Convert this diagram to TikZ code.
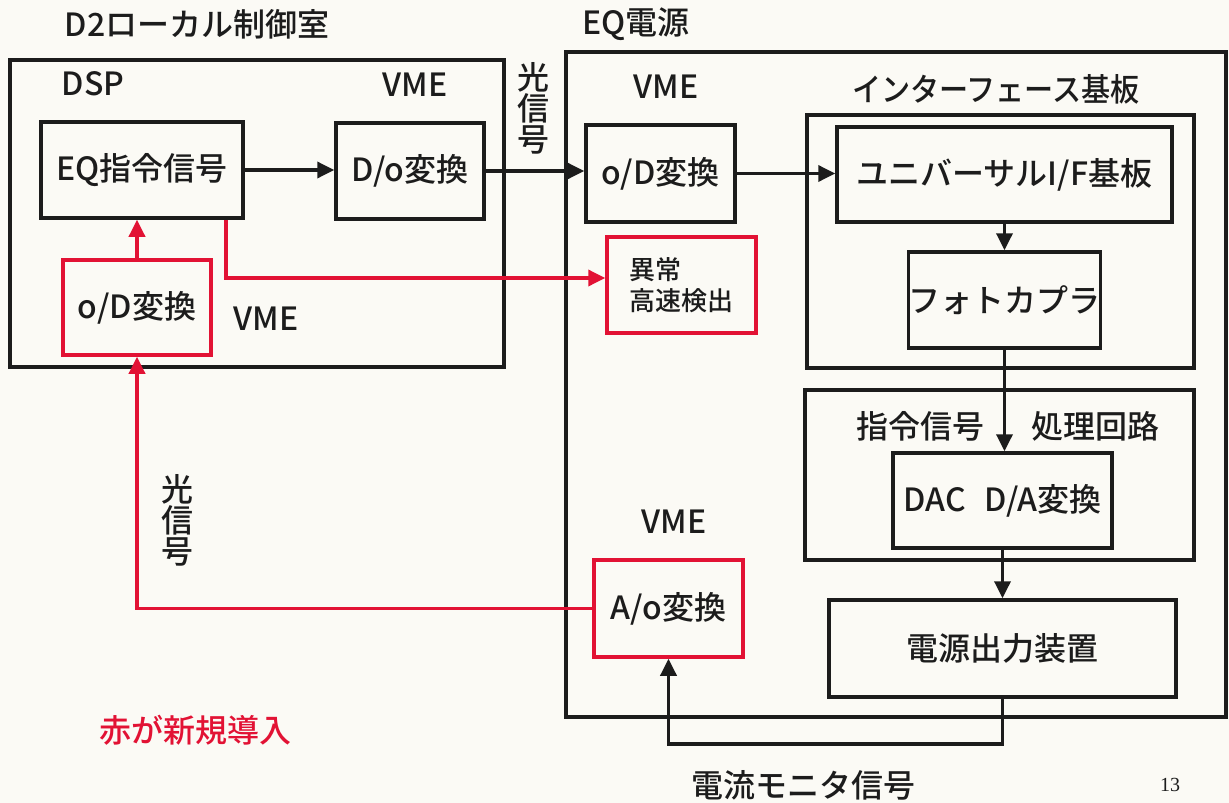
\documentclass[tikz,border=0pt]{standalone}
\usepackage{fontspec}
\setmainfont{Noto Sans CJK JP}[UprightFont={* Medium}]
\newfontfamily\pagefont{Liberation Serif}
\newfontfamily\narrowfont{Noto Sans CJK JP}[UprightFont={* Medium}, FakeStretch=0.91]
\usetikzlibrary{arrows.meta}
\definecolor{redline}{RGB}{226,18,52}
\definecolor{ink}{RGB}{28,28,28}
\definecolor{paper}{RGB}{251,250,245}
\begin{document}
\begin{tikzpicture}[x=1pt,y=-1pt,
  every node/.style={font=\fontsize{32}{31}\selectfont, text=ink, inner sep=0pt},
  bx/.style={draw=ink, line width=3.5pt},
  rbx/.style={draw=redline, line width=3.5pt},
  conn/.style={draw=ink, line width=3.5pt, -{Triangle[length=17pt,width=16pt]}},
  rconn/.style={draw=redline, line width=3.5pt, -{Triangle[length=17pt,width=16pt]}},
  lbl/.style={},
  smalllbl/.style={font=\fontsize{26}{31}\selectfont},
]
\fill[paper] (0,0) rectangle (1229,803);
\useasboundingbox (0,0) rectangle (1229,803);

% containers
\node[bx, minimum width=494pt, minimum height=307pt] (outL) at (257,213.5) {};
\node[bx, minimum width=660pt, minimum height=665pt] (outR) at (896,384.5) {};
\node[bx, minimum width=387pt, minimum height=253pt] (ifb) at (1000.5,241.5) {};
\node[bx, minimum width=389pt, minimum height=170pt] (proc) at (999.5,475) {};

% boxes
\node[bx, minimum width=202pt, minimum height=96pt] (eq) at (142,170) {EQ指令信号};
\node[bx, minimum width=148pt, minimum height=96pt] (do) at (410,171) {D/o変換};
\node[rbx, minimum width=148pt, minimum height=95pt] (odL) at (137,307.5) {o/D変換};
\node[bx, minimum width=149pt, minimum height=97pt] (odR) at (660.5,173.5) {o/D変換};
\node[rbx, minimum width=149pt, minimum height=96pt, align=left, smalllbl] (ijo) at (681.5,285) {異常\\高速検出};
\node[bx, minimum width=335pt, minimum height=95pt] (univ) at (1004.5,174.5) {ユニバーサルI/F基板};
\node[bx, minimum width=187pt, minimum height=96pt] (photo) at (1004.5,300) {フォトカプラ};
\node[bx, minimum width=219pt, minimum height=95pt] (dac) at (1002.5,500.5) {DAC\hspace{0.6em}D/A変換};
\node[rbx, minimum width=149pt, minimum height=97pt] (ao) at (668.5,608.5) {A/o変換};
\node[bx, minimum width=347pt, minimum height=97pt] (psu) at (1002.5,648.5) {電源出力装置};

% labels
\node[lbl] (title) at (197,24) {D2ローカル制御室};
\node[lbl] (eqps) at (636,24) {EQ電源};
\node[lbl] (dsp) at (93,84) {DSP};
\node[lbl] (vmeA) at (415,85) {VME};
\node[lbl, align=center] (hk1) at (533,108) {光\\信\\号};
\node[lbl] (vmeB) at (266,319) {VME};
\node[lbl] (vmeC) at (666,87) {VME};
\node[lbl, font=\narrowfont\fontsize{32}{31}\selectfont] (ifbt) at (996,89) {インターフェース基板};
\node[lbl] (shirei) at (920,426) {指令信号};
\node[lbl] (shori) at (1095,426) {処理回路};
\node[lbl] (vmeD) at (674,522) {VME};
\node[lbl, align=center] (hk2) at (177,520) {光\\信\\号};
\node[lbl] (mon) at (803,785) {電流モニタ信号};
\node[lbl, text=redline] (newred) at (195,730) {赤が新規導入};
\node[lbl, font=\pagefont\fontsize{20}{24}\selectfont] (pg) at (1170,785) {13};

% black connectors
\draw[conn] (eq.east) -- (eq.east -| do.west);
\draw[conn] (do.east) -- (do.east -| odR.west);
\draw[conn] (odR.east) -- (odR.east -| univ.west);
\draw[conn] (univ.south) -- (photo.north);
\draw[conn] (photo.south) -- (photo.south |- dac.north);
\draw[conn] (dac.south) -- (psu.north);
\draw[conn] (psu.south) -- ++(0,45) -| (ao.south);

% red connectors
\draw[rconn] (odL.north) -- (odL.north |- eq.south);
\draw[rconn] ([xshift=-19pt]eq.south east) |- ([yshift=7pt]ijo.west);
\draw[rconn] (ao.west) -| (odL.south);
\end{tikzpicture}
\end{document}
